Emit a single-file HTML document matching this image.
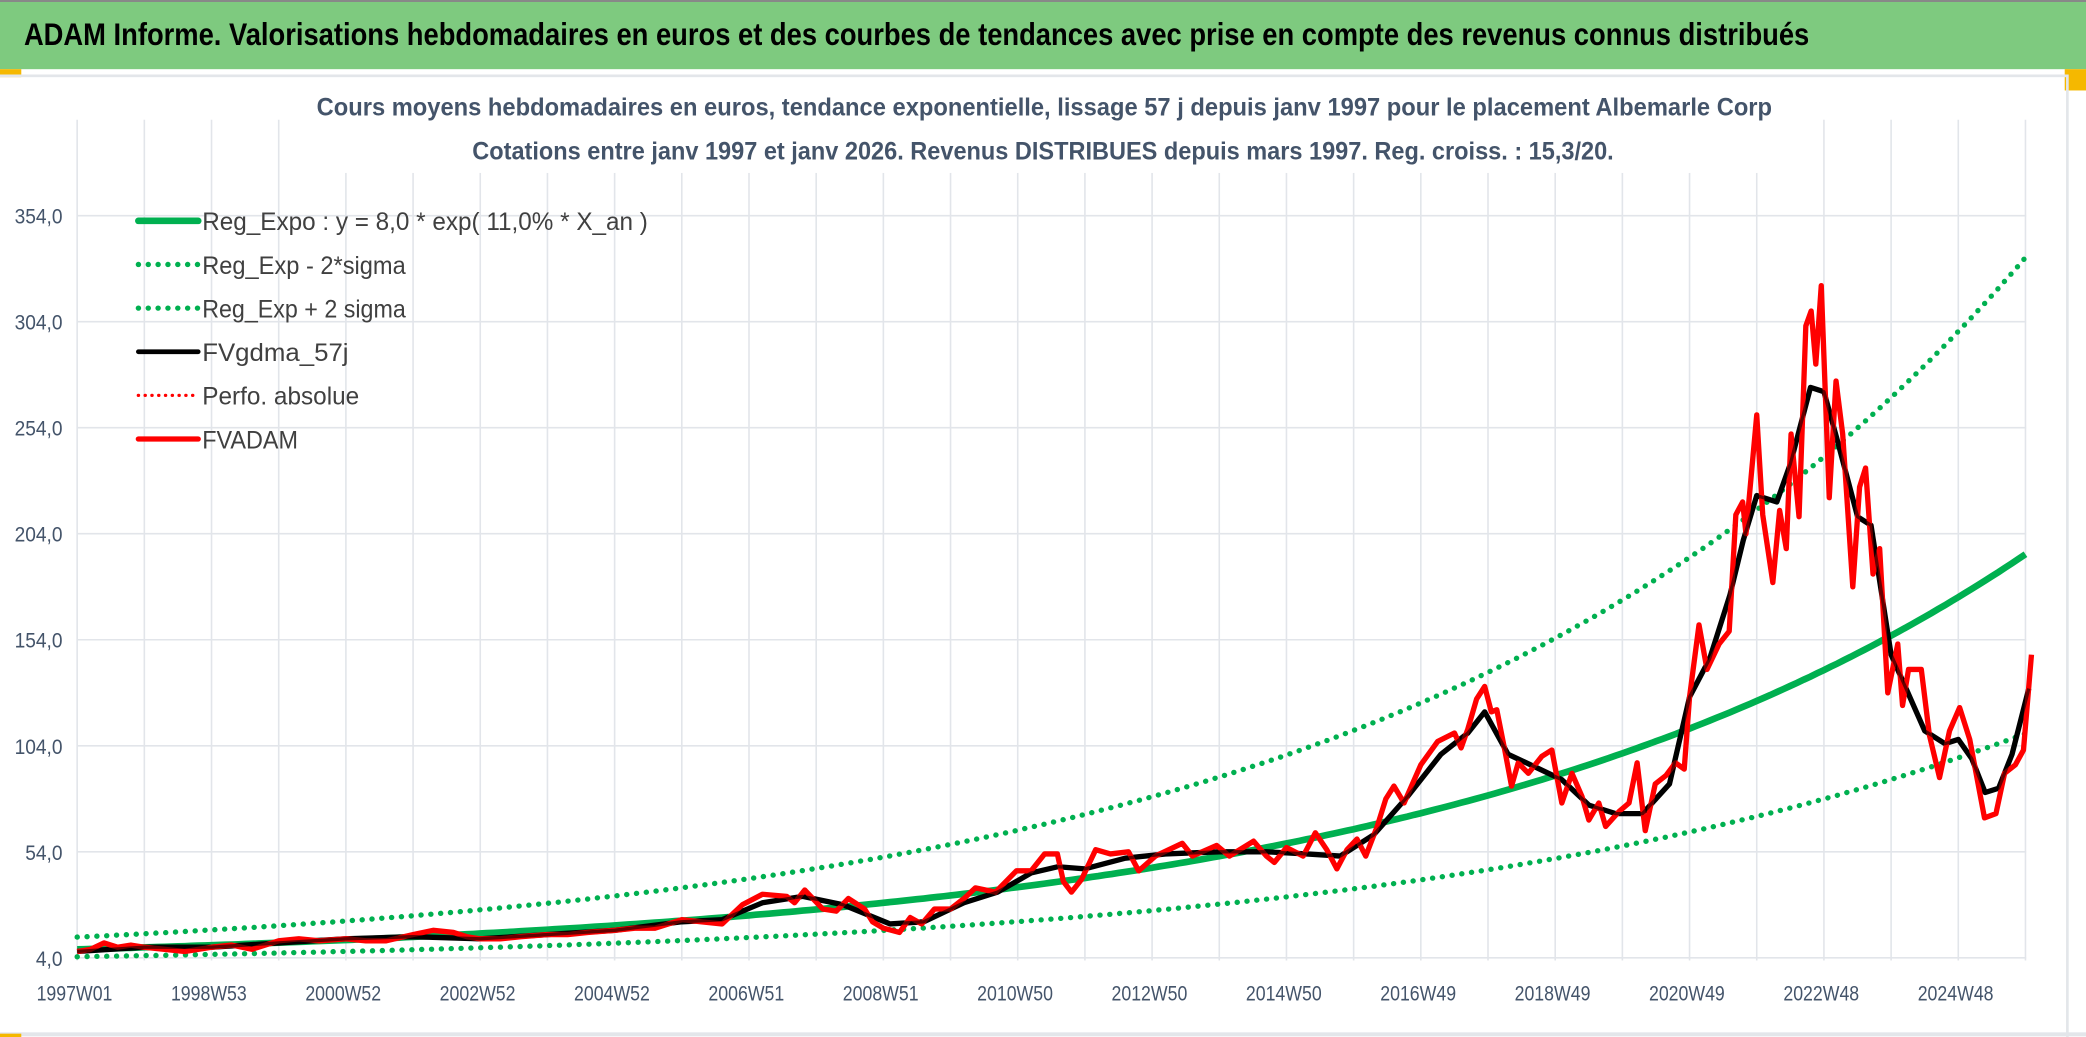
<!DOCTYPE html>
<html><head><meta charset="utf-8">
<style>
html,body{margin:0;padding:0;background:#fff;}
svg{display:block;}
text{font-family:"Liberation Sans",sans-serif;}
</style></head>
<body>
<svg id="chart" width="2086" height="1037" viewBox="0 0 1568 779.5" preserveAspectRatio="none" xmlns="http://www.w3.org/2000/svg">
  <rect x="0" y="0" width="1568" height="780" fill="#fff"/>
  <rect x="0" y="0" width="1568" height="52" fill="#7eca7f"/>
  <rect x="0" y="0" width="1568" height="1.5" fill="#888"/>
  <text x="18" y="34" font-size="24" font-weight="bold" fill="#000" textLength="1342" lengthAdjust="spacingAndGlyphs">ADAM Informe. Valorisations hebdomadaires en euros et des courbes de tendances avec prise en compte des revenus connus distribués</text>
  <rect x="0" y="52" width="16" height="6" fill="#f5b800"/>
  <rect x="1552" y="52" width="16" height="16" fill="#f5b800"/>
  <rect x="0" y="56" width="1554" height="2" fill="#e3e6ea"/>
  <rect x="1553" y="56" width="2" height="724" fill="#e3e6ea"/>
  <rect x="0" y="776" width="1568" height="3" fill="#e3e6ea"/>
  <rect x="0" y="777" width="16" height="3" fill="#f5b800"/>
  <g id="grid"></g>
  <g id="yaxis"></g>
  <g id="xaxis"></g>
  <g id="series"></g>
  <rect x="230" y="60" width="1110" height="70" fill="#fff"/>
  <text x="785" y="87" font-size="19" font-weight="bold" fill="#44546a" text-anchor="middle" textLength="1094" lengthAdjust="spacingAndGlyphs">Cours moyens hebdomadaires en euros, tendance exponentielle, lissage 57 j depuis janv 1997 pour le placement Albemarle Corp</text>
  <text x="784" y="120" font-size="19" font-weight="bold" fill="#44546a" text-anchor="middle" textLength="858" lengthAdjust="spacingAndGlyphs">Cotations entre janv 1997 et janv 2026. Revenus DISTRIBUES depuis mars 1997. Reg. croiss. : 15,3/20.</text>
  <g id="legend"></g>
</svg>
<script>
const yTicks = [4, 54, 104, 154, 204, 254, 304, 354];
const xLabels = ["1997W01","1998W53","2000W52","2002W52","2004W52","2006W51","2008W51","2010W50","2012W50","2014W50","2016W49","2018W49","2020W49","2022W48","2024W48"];
const xLabelYears = [1997,1999,2001,2003,2005,2007,2009,2011,2013,2015,2017,2019,2021,2023,2025];
const regParams = [8.0, 0.11];
const bandFactors = [0.565, 1.72];
const priceYears = [1997,1997.2,1997.4,1997.6,1997.8,1998,1998.3,1998.6,1999,1999.3,1999.6,2000,2000.3,2000.6,2001,2001.3,2001.6,2002,2002.3,2002.6,2002.8,2003,2003.3,2003.6,2004,2004.3,2004.6,2005,2005.3,2005.6,2006,2006.28,2006.6,2006.9,2007.2,2007.56,2007.68,2007.83,2008.1,2008.3,2008.48,2008.72,2008.84,2009,2009.24,2009.4,2009.57,2009.76,2010,2010.2,2010.37,2010.67,2010.98,2011.2,2011.4,2011.59,2011.68,2011.8,2011.95,2012.16,2012.38,2012.65,2012.8,2013.05,2013.45,2013.6,2013.96,2014.15,2014.51,2014.7,2014.82,2015,2015.25,2015.43,2015.6,2015.75,2015.9,2016.05,2016.18,2016.35,2016.48,2016.6,2016.75,2017,2017.25,2017.5,2017.6,2017.7,2017.83,2017.95,2018.05,2018.13,2018.25,2018.35,2018.45,2018.6,2018.8,2018.95,2019.1,2019.25,2019.4,2019.5,2019.65,2019.75,2019.95,2020.1,2020.22,2020.34,2020.49,2020.65,2020.79,2020.92,2021.0,2021.14,2021.26,2021.44,2021.59,2021.69,2021.79,2021.84,2022.0,2022.09,2022.24,2022.34,2022.44,2022.51,2022.63,2022.73,2022.81,2022.88,2022.96,2023.08,2023.18,2023.28,2023.43,2023.53,2023.62,2023.73,2023.83,2023.95,2024.1,2024.17,2024.26,2024.45,2024.57,2024.72,2024.87,2025.02,2025.17,2025.39,2025.56,2025.69,2025.85,2025.97,2026.09];
const priceValues = [7,8,11,9,10,9,8,7,9,10,8,12,13,12,13,12,12,15,17,16,14,13,13,14,15,15,16,17,18,18,22,21,20,29,34,33,30,36,27,26,32,27,21,18,16,23,20,27,27,32,37,35,45,45,53,53,40,35,41,55,53,54,45,52,58,52,57,52,59,52,49,56,52,63,55,46,55,60,52,66,79,85,77,95,106,110,103,112,126,132,120,121,102,85,96,91,99,102,77,91,80,69,77,66,73,77,96,64,86,90,96,93,127,161,140,152,158,213,219,204,260,213,181,215,197,251,212,302,309,284,321,221,276,251,179,226,235,185,197,129,152,123,140,140,109,89,111,122,107,70,72,91,95,102,147];
const smoothYears = [1997,1998,1999,2000,2001,2002,2003,2004,2005,2006,2006.6,2007.2,2007.8,2008.4,2009.1,2009.6,2010.2,2010.7,2011.2,2011.6,2012,2012.6,2013.2,2014,2014.7,2015.3,2015.8,2016.3,2016.8,2017.3,2017.7,2017.95,2018.3,2018.7,2019.1,2019.5,2019.9,2020.3,2020.7,2021.0,2021.3,2021.6,2021.8,2022.0,2022.3,2022.5,2022.8,2023.0,2023.2,2023.5,2023.7,2024.0,2024.5,2024.8,2025.0,2025.2,2025.4,2025.6,2025.8,2026.05];
const smoothValues = [7,9,9,11,13,14,13,15,17,21,22,30,33,29,20,21,30,35,44,47,46,51,53,54,54,53,52,62,80,100,110,120,100,94,88,76,72,72,86,127,145,175,201,222,219,237,273,271,248,212,208,147,111,105,107,98,82,84,100,131];

const X0=58, PXY=50.5, Y0=720, PXV=1.594;
function xs(yr){return X0+(yr-1997)*PXY;}
function ys(v){return Y0-(v-4)*PXV;}
const NS="http://www.w3.org/2000/svg";
function mk(tag,attrs,parent){const e=document.createElementNS(NS,tag);for(const k in attrs)e.setAttribute(k,attrs[k]);parent.appendChild(e);return e;}
const grid=document.getElementById('grid'), ya=document.getElementById('yaxis'), xa=document.getElementById('xaxis'), ser=document.getElementById('series'), leg=document.getElementById('legend');
for(let k=0;k<=29;k++){
  const l=mk('line',{x1:xs(1997+k),x2:xs(1997+k),y1:90,y2:722,stroke:'#e2e5ea','stroke-width':1.2},grid);
  
  
}
yTicks.forEach(v=>{
  const l=mk('line',{x1:X0,x2:1523,y1:ys(v),y2:ys(v),stroke:'#e2e5ea','stroke-width':1.2},grid);
  
  
  const s=v.toFixed(1).replace('.',',');
  const t=mk('text',{x:47,y:ys(v)+6,'font-size':16,fill:'#44546a','text-anchor':'end',textLength:(s.length*8-4),lengthAdjust:'spacingAndGlyphs'},ya);
  
  
  t.textContent=s;
});
xLabels.forEach((s,i)=>{
  const t=mk('text',{x:xs(xLabelYears[i])-2,y:752,'font-size':16,fill:'#44546a','text-anchor':'middle',textLength:57,lengthAdjust:'spacingAndGlyphs'},xa);
  
  
  t.textContent=s;
});
function curve(f){let d='';for(let yr=1997;yr<=2026.001;yr+=0.1){d+=(d?'L':'M')+xs(yr).toFixed(1)+','+ys(f(yr-1997)).toFixed(1);}return d;}
const reg=t=>regParams[0]*Math.exp(regParams[1]*t);
const dot={fill:'none',stroke:'#00b050','stroke-width':4,'stroke-linecap':'round','stroke-dasharray':'0.1 7.3'};
let p=mk('path',Object.assign({d:curve(t=>reg(t)*bandFactors[0])},dot),ser);


p=mk('path',Object.assign({d:curve(t=>reg(t)*bandFactors[1])},dot),ser);


p=mk('path',{d:curve(reg),fill:'none',stroke:'#00b050','stroke-width':5},ser);


function poly(xsA,vs){return xsA.map((yr,i)=>(i?'L':'M')+xs(yr).toFixed(1)+','+ys(vs[i]).toFixed(1)).join('');}
p=mk('path',{d:poly(smoothYears,smoothValues),fill:'none',stroke:'#000','stroke-width':4,'stroke-linejoin':'round'},ser);


p=mk('path',{d:poly(priceYears,priceValues),fill:'none',stroke:'#ff0000','stroke-width':4,'stroke-linejoin':'round'},ser);


p=mk('path',{d:poly(smoothYears,smoothValues),fill:'none',stroke:'#000','stroke-width':2.5,'stroke-linejoin':'round','stroke-opacity':0.6},ser);


const legItems=[["Reg_Expo : y = 8,0 * exp( 11,0% *  X_an )",'#00b050',5,null,335],["Reg_Exp - 2*sigma",'#00b050',4,'0.1 7.3',153],["Reg_Exp + 2 sigma",'#00b050',4,'0.1 7.3',153],["FVgdma_57j",'#000',3.5,null,110],["Perfo. absolue",'#ff0000',2.5,'0.1 5',118],["FVADAM",'#ff0000',4,null,72]];
legItems.forEach((it,i)=>{
  const y=166+i*32.8;
  const g=mk('g',{},leg);
  
  
  const a={x1:104,x2:149,y1:y,y2:y,stroke:it[1],'stroke-width':it[2],'stroke-linecap':'round'};
  if(it[3])a['stroke-dasharray']=it[3];
  mk('line',a,g);
  const t=mk('text',{x:152,y:y+7,'font-size':19,fill:'#404040',textLength:it[4],lengthAdjust:'spacingAndGlyphs'},g);
  t.textContent=it[0];
});
</script>
</body></html>
